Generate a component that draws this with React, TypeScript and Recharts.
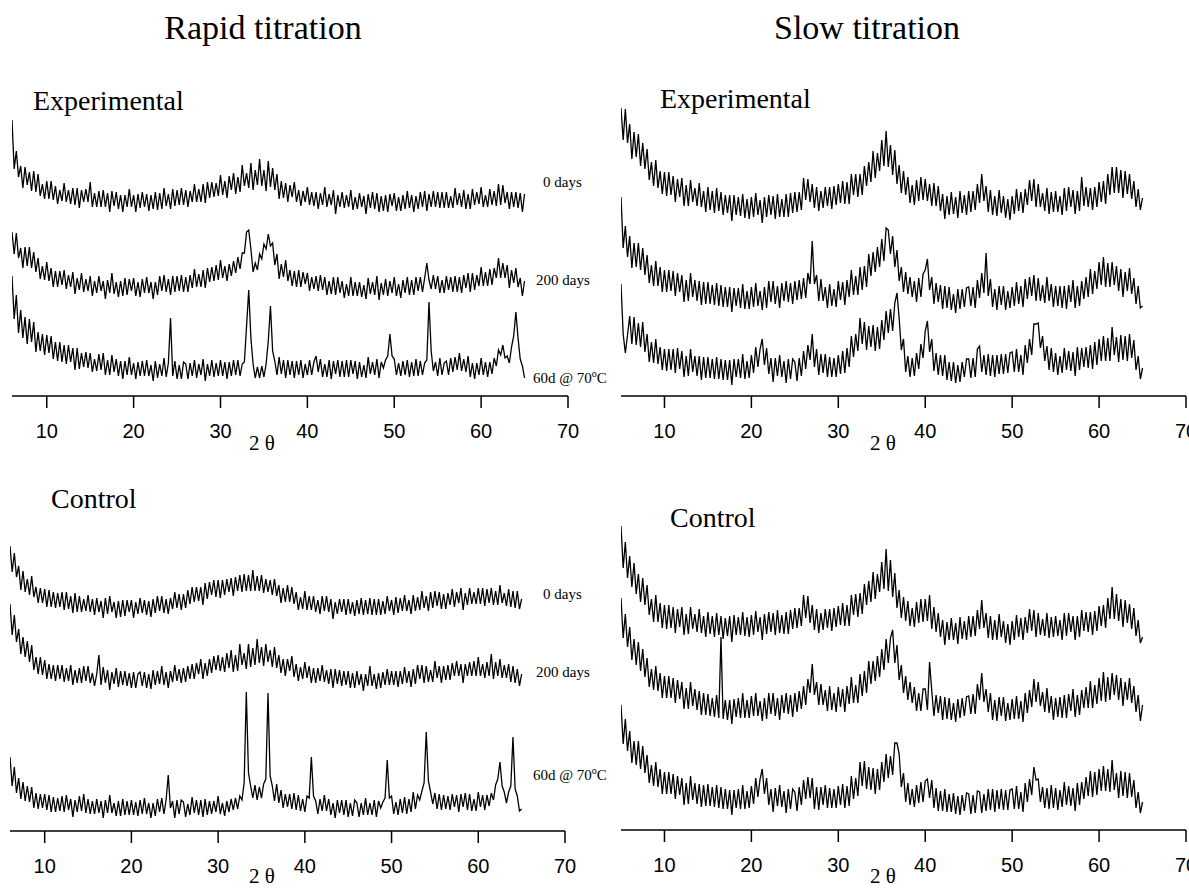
import React from 'react';
import { LineChart, Line, XAxis, YAxis } from 'recharts';

// 2-theta sampling of every trace: left panels start at 6°, right panels at 5°, step 0.25°
const LEFT_START = 6;
const RIGHT_START = 5;
const STEP = 0.25;
const TICKS = [10, 20, 30, 40, 50, 60, 70];
const PLOT_H = 320;

// ---------- Rapid titration, Experimental (intensity, offset stacked) ----------
const rapidExp0 = [
  276,227,245,219,230,208,229,211,224,205,225,204,222,200,212,197,215,197,215,196,
  210,192,206,195,213,194,206,192,208,191,208,188,206,194,207,194,214,189,203,189,
  205,189,206,189,203,184,205,190,204,187,201,184,201,189,207,189,201,184,202,188,
  204,189,202,185,201,187,204,186,203,187,208,190,202,187,207,190,206,191,208,191,
  206,189,205,194,212,194,207,194,212,193,214,198,214,199,213,200,221,201,215,198,
  220,206,223,202,219,204,231,210,223,208,233,206,226,211,237,210,226,205,235,209,
  228,206,222,197,215,198,213,194,211,199,214,194,206,190,205,194,209,191,204,190,
  204,187,203,191,209,189,202,191,206,182,201,189,204,188,201,189,206,186,199,187,
  203,189,200,182,202,188,204,187,203,184,200,185,201,184,202,190,203,185,199,185,
  201,187,205,188,201,184,200,187,204,189,205,185,202,189,205,189,204,188,204,188,
  204,188,200,188,208,191,203,189,206,187,202,187,207,191,204,192,209,189,201,189,
  207,191,205,190,212,191,211,193,204,187,204,189,204,188,203,184,202,
];
const rapidExp200 = [
  164,142,163,138,148,128,149,130,149,128,144,124,138,117,130,116,134,115,128,109,
  125,109,125,111,126,107,121,109,124,102,118,106,123,104,117,105,120,100,115,103,
  120,105,115,97,116,103,123,102,114,99,115,100,118,101,117,105,118,100,114,99,
  117,103,119,103,114,97,114,101,120,105,121,104,117,101,120,104,120,105,121,104,
  119,104,121,108,127,109,122,109,126,108,128,114,129,115,131,116,136,118,130,115,
  132,120,135,123,139,127,143,143,164,166,147,124,133,126,142,137,152,147,162,150,
  153,131,142,117,132,119,136,115,126,110,125,109,126,109,124,112,123,105,119,107,
  120,105,121,106,119,101,115,102,119,101,119,103,115,98,112,100,119,100,114,100,
  114,99,111,97,118,102,114,101,120,96,113,101,117,100,115,103,119,100,112,98,
  116,103,119,101,116,101,119,105,119,104,118,133,116,107,121,107,120,103,116,103,
  120,106,119,104,120,104,119,103,121,108,123,104,123,106,121,110,129,110,124,110,
  127,111,128,118,138,118,133,118,131,108,126,113,128,109,118,100,115,
];
const rapidExp60 = [
  120,77,101,63,86,58,79,52,77,54,74,44,64,45,62,41,61,43,60,37,
  54,35,54,34,51,32,51,34,48,26,48,27,43,29,44,28,43,24,37,25,
  42,26,43,21,36,21,41,24,37,20,35,17,35,21,39,21,33,17,34,20,
  35,20,36,20,31,15,35,18,32,20,38,19,33,78,20,35,17,31,17,34,
  32,17,33,20,36,18,32,21,37,15,32,20,36,19,33,20,36,20,34,17,
  34,20,36,21,36,20,32,34,70,106,58,32,18,29,18,30,19,32,55,90,
  45,35,21,39,22,36,18,36,21,35,18,35,21,36,18,32,21,36,21,34,
  40,24,37,19,32,19,36,17,35,22,36,19,35,19,36,19,36,22,35,17,
  34,19,31,18,39,22,34,21,37,18,34,28,36,40,62,40,37,21,33,20,
  35,21,36,19,34,20,37,20,35,21,33,36,94,45,25,34,20,38,21,33,
  35,21,38,24,39,26,43,25,37,24,40,19,33,17,33,21,38,21,34,19,
  34,22,38,30,46,41,51,38,40,33,49,60,84,58,37,30,18,
];

// ---------- Rapid titration, Control ----------
const rapidCtl0 = [
  285,259,278,254,265,241,260,239,252,236,255,234,244,228,243,228,242,224,241,224,
  239,223,238,224,239,221,239,222,235,218,238,219,235,219,232,220,236,219,232,216,
  233,219,230,213,233,217,235,219,229,213,230,214,231,215,231,219,231,213,229,217,
  233,218,231,216,230,214,232,218,235,220,235,218,232,217,233,222,239,223,237,221,
  237,223,241,227,244,229,244,230,244,226,248,232,249,236,251,234,251,233,251,236,
  252,239,253,235,254,240,256,239,257,240,256,240,261,240,255,240,256,238,252,239,
  251,236,252,235,246,228,243,229,246,229,244,227,239,221,234,222,240,221,235,221,
  235,219,231,217,235,220,235,219,232,212,229,217,232,219,232,216,232,217,229,215,
  231,217,233,216,231,217,233,216,232,216,232,216,230,217,235,220,231,216,234,218,
  233,220,236,220,231,217,236,220,234,221,240,223,235,220,239,223,240,225,239,222,
  237,222,238,226,242,224,239,228,243,221,238,226,243,227,239,227,243,227,243,225,
  242,228,243,226,240,226,246,228,238,225,242,224,240,223,240,222,232,
];
const rapidCtl200 = [
  227,196,216,189,202,177,194,174,190,169,186,161,174,157,174,156,171,152,167,152,
  166,150,166,152,166,149,163,150,166,146,161,148,163,148,165,150,165,148,158,145,
  157,176,146,164,148,161,141,159,147,163,144,160,146,160,145,158,143,159,143,157,
  159,145,159,143,157,142,161,146,160,147,165,146,159,143,160,149,166,150,162,148,
  163,149,165,152,167,152,168,157,172,152,168,155,172,158,175,161,176,160,174,159,
  178,163,181,159,176,160,187,166,178,162,187,164,183,166,192,168,184,165,187,169,
  181,164,184,163,176,158,172,155,172,160,175,154,167,150,164,152,169,153,165,148,
  163,148,163,150,166,149,161,147,162,143,162,147,161,145,160,146,160,143,158,143,
  160,146,157,140,157,145,165,145,157,142,158,143,159,146,162,146,160,146,160,144,
  160,147,164,148,160,144,162,147,166,152,166,148,165,149,161,149,170,153,165,148,
  165,151,166,151,168,155,170,155,167,148,167,155,169,155,170,155,174,155,167,153,
  169,155,177,152,169,155,172,153,166,153,167,149,165,148,162,145,157,
];
const rapidCtl60 = [
  74,45,64,38,53,32,49,30,45,29,44,23,38,22,37,23,37,21,36,19,
  34,19,33,20,35,19,36,21,32,14,31,19,35,20,37,18,32,17,30,17,
  32,18,30,13,31,18,36,18,28,15,30,15,32,16,30,16,31,16,29,15,
  31,17,33,17,28,13,28,15,32,19,33,17,31,56,23,30,13,31,17,31,
  29,14,27,16,34,18,31,16,31,14,32,16,30,17,30,19,35,17,28,15,
  30,19,32,21,33,22,35,31,48,139,58,45,33,46,31,44,33,47,52,138,
  55,45,30,47,28,41,23,37,24,37,22,38,21,36,20,32,19,35,33,74,
  35,30,17,32,20,36,20,32,16,28,13,31,18,31,16,31,14,28,15,31,
  28,14,28,16,33,16,28,16,31,14,30,23,29,33,71,33,35,17,29,16,
  32,18,34,17,32,19,39,22,36,31,40,48,99,50,39,27,38,22,37,21,
  36,22,35,21,37,24,36,19,37,24,38,21,37,20,32,20,39,24,36,21,
  36,25,38,31,46,52,69,45,39,28,39,45,94,42,35,20,22,
];

// ---------- Slow titration, Experimental ----------
const slowExp0 = [
  288,256,287,253,272,237,264,239,262,230,253,227,247,216,234,210,236,208,225,202,
  224,200,224,201,220,194,217,199,218,190,211,190,216,194,208,190,213,189,205,184,
  209,186,205,183,208,185,204,181,201,183,201,175,201,181,199,180,202,178,197,177,
  199,179,203,181,196,173,199,179,201,181,200,177,202,179,197,179,202,179,203,183,
  204,184,204,186,218,196,217,194,212,188,209,185,205,188,209,190,209,187,210,191,
  212,193,215,192,214,192,222,201,222,199,222,201,230,210,234,214,245,218,243,225,
  256,230,265,229,251,221,246,212,231,203,225,201,219,193,211,191,216,195,219,196,
  217,195,212,190,213,190,210,185,202,177,200,181,204,182,199,178,205,183,201,181,
  205,184,205,186,212,193,222,195,210,184,206,181,200,180,206,183,200,178,197,176,
  200,182,207,185,204,183,207,191,216,195,217,189,212,189,203,185,208,182,204,184,
  205,184,200,181,208,185,209,189,206,182,205,185,219,190,209,189,208,186,209,189,
  214,194,215,192,222,201,229,203,229,203,226,198,225,202,222,197,215,189,207,186,
  198,
];
const slowExp200 = [
  199,148,170,139,160,128,153,129,153,126,148,121,141,113,131,110,135,110,129,104,
  126,104,126,105,125,100,123,104,121,94,116,95,123,99,116,95,115,91,114,92,
  114,92,111,91,113,90,111,89,109,89,109,84,108,90,108,88,112,87,105,87,
  109,89,113,90,105,86,109,88,115,94,115,92,110,88,113,95,115,94,113,92,
  115,96,116,97,118,98,123,112,155,112,121,95,117,95,109,88,112,90,107,89,
  115,96,114,91,116,99,126,101,120,101,129,106,130,109,142,120,144,124,149,129,
  157,135,168,166,142,160,129,146,115,129,104,124,102,119,99,115,94,118,99,122,
  126,137,106,119,92,113,94,111,87,110,88,109,86,102,83,107,87,107,89,108,
  109,90,109,88,116,98,123,103,143,100,117,89,107,86,110,91,110,86,105,88,
  109,90,114,92,110,89,117,97,119,100,121,95,118,95,111,93,119,95,112,89,
  110,90,110,88,110,87,111,94,116,88,110,90,115,97,119,99,127,102,125,107,
  134,111,139,109,133,109,134,111,130,105,127,99,124,105,128,102,118,92,110,88,
  90,
];
const slowExp60 = [
  112,62,43,61,80,52,79,51,73,49,74,44,62,34,54,33,57,32,49,26,
  47,25,47,26,47,23,48,27,45,19,40,20,47,24,40,20,40,16,39,18,
  39,18,37,17,39,17,37,16,36,16,36,11,37,19,37,18,42,17,35,18,
  41,23,49,29,47,57,31,48,22,38,14,38,20,41,19,35,13,37,17,37,
  34,15,38,20,45,27,51,36,62,29,47,21,42,23,42,19,39,19,38,19,
  41,22,45,23,48,29,60,39,62,45,78,52,74,46,70,49,71,45,69,47,
  76,56,85,63,87,65,93,103,78,46,57,24,40,19,38,20,43,27,52,38,
  65,75,44,57,25,43,21,41,20,41,16,34,15,34,13,31,14,34,19,37,
  37,18,38,19,47,50,24,41,21,42,20,41,19,41,22,42,22,42,23,43,
  44,24,47,24,41,21,51,33,57,41,72,72,73,48,60,35,50,26,48,24,
  43,21,40,23,48,26,45,25,44,20,49,26,48,29,49,28,51,27,54,31,
  57,35,60,35,58,35,69,41,59,34,61,36,60,35,62,38,56,26,40,17,
  28,
];

// ---------- Slow titration, Control ----------
const slowCtl0 = [
  304,262,288,252,274,243,267,236,256,228,252,225,245,215,231,208,235,208,227,202,
  225,201,225,202,223,197,221,203,223,195,216,196,223,201,216,198,221,197,214,193,
  218,196,214,193,217,195,214,191,212,194,214,188,215,195,213,195,218,194,213,193,
  215,195,219,198,213,190,216,196,218,198,217,195,220,197,215,196,218,196,220,201,
  222,202,222,204,235,212,234,207,225,200,221,197,217,200,221,202,221,199,222,203,
  224,205,227,204,225,204,235,215,236,213,237,216,246,225,249,228,258,231,256,238,
  268,241,281,239,270,233,257,222,240,212,233,209,229,204,222,203,228,207,231,208,
  231,209,235,201,223,198,217,193,210,185,208,190,212,190,207,186,213,191,209,190,
  214,193,214,194,220,201,230,202,217,192,214,190,210,190,216,193,209,187,206,185,
  209,190,215,193,212,190,213,197,221,199,220,193,217,195,211,194,217,192,213,193,
  214,194,210,190,217,194,217,198,214,190,214,193,220,199,218,198,218,195,219,199,
  224,204,225,202,232,211,243,211,236,209,231,203,230,207,226,201,222,194,210,187,
  193,
];
const slowCtl200 = [
  232,192,216,183,203,170,191,165,188,159,181,153,172,143,161,140,164,139,157,132,
  154,132,154,132,152,127,150,131,148,121,142,121,148,124,141,120,139,115,137,115,
  136,114,132,113,135,112,193,111,130,110,130,106,131,113,132,112,137,112,130,112,
  134,114,137,114,129,109,132,111,137,116,137,114,132,110,135,117,137,116,135,113,
  137,118,139,121,144,125,151,137,166,135,148,125,146,125,140,119,144,120,137,118,
  143,123,141,118,144,126,153,127,145,127,156,134,159,137,169,146,169,149,174,153,
  181,160,191,167,192,200,167,185,150,165,137,154,130,148,127,143,119,137,119,141,
  141,120,168,139,114,135,117,134,110,133,111,132,110,127,108,131,112,132,114,133,
  134,116,136,116,146,130,157,128,141,118,137,110,130,109,133,114,133,109,127,110,
  131,111,134,111,129,108,137,117,140,123,151,128,148,124,138,118,142,117,134,110,
  132,113,133,112,135,112,136,119,141,113,135,115,140,122,143,122,149,122,145,126,
  152,129,158,128,153,130,157,135,155,130,152,124,148,130,152,127,144,118,135,109,
  125,
];
const slowCtl60 = [
  125,86,111,79,99,67,89,65,89,61,84,57,75,47,65,44,68,43,61,36,
  58,36,58,36,56,31,54,35,52,25,47,26,54,30,47,26,46,23,45,24,
  46,24,43,23,45,22,43,21,41,21,40,15,40,22,41,21,45,21,39,22,
  44,26,52,33,51,61,36,52,25,41,18,42,24,45,23,39,17,41,21,41,
  38,19,43,25,50,31,53,32,52,21,43,20,43,25,45,22,42,22,41,22,
  44,25,46,22,44,24,54,31,52,34,68,44,69,41,63,40,62,36,61,40,
  68,48,76,52,74,55,87,87,76,43,57,28,47,25,41,23,45,27,48,28,
  49,51,32,50,22,42,19,39,19,41,18,36,18,37,16,34,15,35,19,37,
  36,16,35,17,39,38,17,36,19,41,20,41,18,40,21,41,20,40,20,40,
  41,21,44,21,38,18,47,28,51,35,63,50,51,28,43,22,42,21,45,22,
  42,20,40,23,48,25,44,24,42,19,47,25,48,31,53,34,59,33,58,35,
  61,39,64,39,61,38,70,40,57,32,59,34,58,32,57,33,50,22,38,17,
  28,
];

const SERIES_KEYS = ['d0', 'd200', 'd60'];

function buildRows(start: number, s0: number[], s200: number[], s60: number[]) {
  const n = Math.max(s0.length, s200.length, s60.length);
  const rows: any[] = [];
  for (let i = 0; i < n; i++) {
    rows.push({ theta: start + i * STEP, d0: s0[i], d200: s200[i], d60: s60[i] });
  }
  return rows;
}

const rapidExpRows = buildRows(LEFT_START, rapidExp0, rapidExp200, rapidExp60);
const rapidCtlRows = buildRows(LEFT_START, rapidCtl0, rapidCtl200, rapidCtl60);
const slowExpRows = buildRows(RIGHT_START, slowExp0, slowExp200, slowExp60);
const slowCtlRows = buildRows(RIGHT_START, slowCtl0, slowCtl200, slowCtl60);

const AXIS_H = 62;

function Panel(props: { left: number; top: number; plotW: number; domain: [number, number]; data: any[] }) {
  const { left, top, plotW, domain, data } = props;
  return (
    <div style={{ position: 'absolute', left, top }}>
      <LineChart
        width={plotW + 40}
        height={PLOT_H + AXIS_H}
        data={data}
        margin={{ top: 0, right: 40, bottom: 0, left: 0 }}
      >
        <XAxis
          dataKey="theta"
          type="number"
          domain={domain}
          ticks={TICKS}
          interval={0}
          allowDataOverflow
          height={AXIS_H}
          tickSize={12}
          tickMargin={16}
          axisLine={{ stroke: '#000', strokeWidth: 1.5 }}
          tickLine={{ stroke: '#000', strokeWidth: 1.5 }}
          tick={{ fill: '#000', fontSize: 20, fontFamily: '"Liberation Sans", Arial, sans-serif' }}
        />
        <YAxis hide type="number" domain={[0, PLOT_H]} allowDataOverflow />
        {SERIES_KEYS.map((k) => (
          <Line
            key={k}
            dataKey={k}
            type="linear"
            stroke="#000"
            strokeWidth={1.3}
            dot={false}
            activeDot={false}
            isAnimationActive={false}
          />
        ))}
      </LineChart>
    </div>
  );
}

const serif = '"Liberation Serif", "Times New Roman", serif';

function TraceLabels(props: { y0: number; y200: number; y60: number }) {
  const { y0, y200, y60 } = props;
  return (
    <g fontFamily={serif} fontSize={15} fill="#000">
      <text x={543} y={y0}>0 days</text>
      <text x={536} y={y200}>200 days</text>
      <text x={533} y={y60}>
        60d @ 70<tspan dy={-6} fontSize={10}>o</tspan>
        <tspan dy={6}>C</tspan>
      </text>
    </g>
  );
}

export default function App() {
  return (
    <div
      style={{
        position: 'absolute',
        left: 0,
        top: 0,
        width: 1189,
        height: 888,
        overflow: 'hidden',
        background: '#fff',
      }}
    >
      <Panel left={12} top={396 - PLOT_H} plotW={556} domain={[6, 70]} data={rapidExpRows} />
      <Panel left={10} top={831 - PLOT_H} plotW={555} domain={[6, 70]} data={rapidCtlRows} />
      <Panel left={621} top={396 - PLOT_H} plotW={565} domain={[5, 70]} data={slowExpRows} />
      <Panel left={621} top={830 - PLOT_H} plotW={565} domain={[5, 70]} data={slowCtlRows} />
      <svg
        width={1189}
        height={888}
        style={{ position: 'absolute', left: 0, top: 0, pointerEvents: 'none' }}
      >
        <g fontFamily={serif} fill="#000">
          <text x={263} y={39} fontSize={34} textAnchor="middle">Rapid titration</text>
          <text x={867} y={39} fontSize={34} textAnchor="middle">Slow titration</text>
          <text x={33} y={110} fontSize={28}>Experimental</text>
          <text x={660} y={108} fontSize={28}>Experimental</text>
          <text x={51} y={508} fontSize={28}>Control</text>
          <text x={670} y={527} fontSize={28}>Control</text>
          <text x={262} y={450} fontSize={21} textAnchor="middle">2 θ</text>
          <text x={883} y={450} fontSize={21} textAnchor="middle">2 θ</text>
          <text x={262} y={883} fontSize={21} textAnchor="middle">2 θ</text>
          <text x={883} y={883} fontSize={21} textAnchor="middle">2 θ</text>
        </g>
        <TraceLabels y0={187} y200={285} y60={383} />
        <TraceLabels y0={599} y200={677} y60={780} />
      </svg>
    </div>
  );
}
